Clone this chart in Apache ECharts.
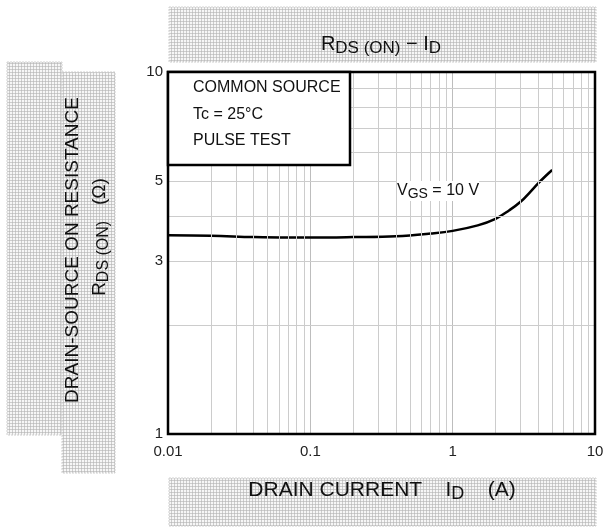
<!DOCTYPE html>
<html>
<head>
<meta charset="utf-8">
<script src="https://cdn.jsdelivr.net/npm/echarts@6/dist/echarts.min.js"></script>
<style>
html,body{margin:0;padding:0;background:#fff;}
#c{width:604px;height:527px;}
</style>
</head>
<body>
<div id="c"></div>
<script>
// ---- data ----
const currentA = [0.01, 0.02, 0.04, 0.07, 0.1, 0.2, 0.4, 0.7, 1, 1.5, 2, 2.5, 3, 3.5, 4, 4.5, 5];
const rdsOhm   = [3.54, 3.53, 3.50, 3.49, 3.49, 3.50, 3.52, 3.58, 3.64, 3.77, 3.93, 4.15, 4.38, 4.66, 4.93, 5.16, 5.36];

const xTicks = [0.01, 0.1, 1, 10];
const xTickLabels = ['0.01', '0.1', '1', '10'];
const yTicks = [1, 3, 5, 10];
const yTickLabels = ['1', '3', '5', '10'];

const xMinorGrid = [0.02,0.03,0.04,0.05,0.06,0.07,0.08,0.09,0.2,0.3,0.4,0.5,0.6,0.7,0.8,0.9,2,3,4,5,6,7,8,9];
const yMinorGrid = [2,3,4,5,6,7,8,9];

const FONT = '"Liberation Sans", Arial, Helvetica, sans-serif';

function tickLabel(v, ticks, labels) {
  for (let i = 0; i < ticks.length; i++) {
    if (Math.abs(Math.log10(v) - Math.log10(ticks[i])) < 1e-6) return labels[i];
  }
  return '';
}

// hatched background pattern for the scanned label bands
const pc = document.createElement('canvas');
pc.width = 3; pc.height = 3;
const pctx = pc.getContext('2d');
pctx.fillStyle = '#f6f6f6'; pctx.fillRect(0, 0, 3, 3);
pctx.fillStyle = '#cdcdcd'; pctx.fillRect(0, 0, 1, 3); pctx.fillRect(0, 0, 3, 1);
pctx.fillStyle = '#bdbdbd'; pctx.fillRect(0, 0, 1, 1);
const hatch = { image: pc, repeat: 'repeat' };

function band(x, y, w, h) {
  return { type: 'rect', z: 1, silent: true,
    shape: { x: x, y: y, width: w, height: h },
    style: { fill: hatch, stroke: '#d0d0d0', lineWidth: 1, lineDash: [2, 1] } };
}

const richMain = (fs) => ({ fontSize: fs, fontFamily: FONT, fill: '#111', lineHeight: fs + 4 });
const richSub = (fs, pad) => ({ fontSize: fs, fontFamily: FONT, fill: '#111', lineHeight: fs + 2, padding: [pad, 0, 0, 0] });

const gridLineData = [];
xMinorGrid.forEach(v => gridLineData.push({ xAxis: v, label: { show: false } }));
yMinorGrid.forEach(v => {
  const lab = tickLabel(v, yTicks, yTickLabels);
  gridLineData.push({ yAxis: v, label: lab ? {
    show: true, position: 'start', distance: 5, formatter: lab,
    color: '#222', fontSize: 15, fontFamily: FONT } : { show: false } });
});

const chart = echarts.init(document.getElementById('c'), null, { renderer: 'canvas' });
chart.setOption({
  animation: false,
  backgroundColor: '#fff',
  grid: { left: 168, top: 72, width: 427, height: 362, show: true, z: 10,
          borderColor: '#000', borderWidth: 2.5, backgroundColor: 'transparent',
          containLabel: false, outerBoundsMode: 'none' },
  xAxis: {
    type: 'log', logBase: 10, min: 0.01, max: 10,
    axisLine: { show: false }, axisTick: { show: false },
    splitLine: { show: true, lineStyle: { color: '#bdbdbd', width: 1 } },
    minorTick: { show: false }, minorSplitLine: { show: false },
    axisLabel: { show: true, margin: 10, color: '#222', fontSize: 15, fontFamily: FONT,
                 showMinLabel: true, showMaxLabel: true,
                 formatter: v => tickLabel(v, xTicks, xTickLabels) }
  },
  yAxis: {
    type: 'log', logBase: 10, min: 1, max: 10,
    axisLine: { show: false }, axisTick: { show: false },
    splitLine: { show: false },
    axisLabel: { show: true, margin: 5, color: '#222', fontSize: 15, fontFamily: FONT,
                 showMinLabel: true, showMaxLabel: true,
                 formatter: v => tickLabel(v, yTicks, yTickLabels) }
  },
  series: [{
    type: 'line', z: 3,
    data: currentA.map((x, i) => [x, rdsOhm[i]]),
    showSymbol: false, symbol: 'none', smooth: 0.4,
    lineStyle: { color: '#000', width: 2.5 },
    markLine: {
      silent: true, symbol: ['none', 'none'], animation: false,
      lineStyle: { color: '#cccccc', width: 1, type: 'solid' },
      emphasis: { disabled: true },
      data: gridLineData
    }
  }],
  graphic: [
    band(169, 7, 427, 55),
    band(7, 62, 55, 373),
    band(62, 72, 53, 401),
    band(169, 478, 427, 48),
    // title
    { type: 'text', z: 30, silent: true, x: 381, y: 44,
      style: { text: '{m|R}{s|DS (ON)}{m| \u2212 I}{s|D}', align: 'center', verticalAlign: 'middle',
               rich: { m: richMain(20), s: richSub(17, 8) } } },
    // x-axis name
    { type: 'text', z: 30, silent: true, x: 382, y: 490,
      style: { text: '{m|DRAIN CURRENT    I}{s|D}{m|    (A)}', align: 'center', verticalAlign: 'middle',
               rich: { m: richMain(21), s: richSub(18, 9) } } },
    // y-axis name, two lines
    { type: 'text', z: 30, silent: true, x: 73, y: 250, rotation: Math.PI / 2,
      style: { text: 'DRAIN-SOURCE ON RESISTANCE', align: 'center', verticalAlign: 'middle',
               fontSize: 19, fontFamily: FONT, fill: '#111' } },
    { type: 'text', z: 30, silent: true, x: 100, y: 237, rotation: Math.PI / 2,
      style: { text: '{m|R}{s|DS (ON)}{m|   (\u03A9)}', align: 'center', verticalAlign: 'middle',
               rich: { m: richMain(19), s: richSub(16, 8) } } },
    // condition box
    { type: 'rect', z: 20, silent: true,
      shape: { x: 168, y: 72, width: 182, height: 93 },
      style: { fill: '#fff', stroke: '#000', lineWidth: 2.5 } },
    { type: 'text', z: 30, silent: true, x: 193, y: 88,
      style: { text: 'COMMON SOURCE', align: 'left', verticalAlign: 'middle', fontSize: 16, fontFamily: FONT, fill: '#111' } },
    { type: 'text', z: 30, silent: true, x: 193, y: 115,
      style: { text: 'Tc = 25\u00B0C', align: 'left', verticalAlign: 'middle', fontSize: 16, fontFamily: FONT, fill: '#111' } },
    { type: 'text', z: 30, silent: true, x: 193, y: 141,
      style: { text: 'PULSE TEST', align: 'left', verticalAlign: 'middle', fontSize: 16, fontFamily: FONT, fill: '#111' } },
    // curve label
    { type: 'text', z: 30, silent: true, x: 397, y: 191,
      style: { text: '{m|V}{s|GS}{m| = 10 V}', align: 'left', verticalAlign: 'middle',
               backgroundColor: '#fff',
               rich: { m: richMain(16), s: richSub(14, 7) } } }
  ]
});
</script>
</body>
</html>
